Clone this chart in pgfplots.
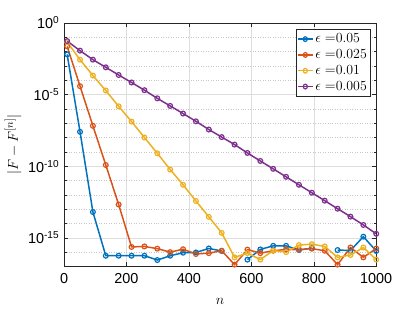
\documentclass[border=0pt]{standalone}
\usepackage{pgfplots}
\pgfplotsset{compat=1.18}
\usepackage{pgfplotstable}
\usepackage{fontspec}
\setmainfont{Liberation Sans}
\newfontfamily\lmr{Latin Modern Roman}
\definecolor{mblue}{rgb}{0,0.447,0.741}
\definecolor{morange}{rgb}{0.85,0.325,0.098}
\definecolor{myellow}{rgb}{0.929,0.694,0.125}
\definecolor{mpurple}{rgb}{0.494,0.184,0.556}
\definecolor{axgray}{rgb}{0.15,0.15,0.15}

\pgfplotstableread{
n       blue      orange    yellow    purple
10      6.3e-3    2.3e-2    4.5e-2    5.4e-2
51.25   2.5e-8    3.8e-5    2.7e-3    1.15e-2
92.5    6.3e-14   6.5e-8    2.1e-4    2.7e-3
133.75  5.6e-17   1.2e-10   1.9e-5    7.9e-4
175     5.6e-17   2.1e-13   1.5e-6    2.3e-4
216.25  5.6e-17   2.3e-16   1.3e-7    6.9e-5
257.5   5.6e-17   2.5e-16   1.0e-8    2.0e-5
298.75  2.8e-17   1.75e-16  7.9e-10   5.4e-6
340     5.6e-17   1.0e-16   5.8e-11   1.6e-6
381.25  9.1e-17   1.6e-16   5.0e-12   4.7e-7
422.5   9.5e-17   7.4e-17   3.7e-13   1.35e-7
463.75  1.8e-16   8.5e-17   2.9e-14   3.6e-8
505     1.2e-16   1.25e-16  2.2e-15   1.07e-8
546.25  nan       1.35e-17  4.3e-17   3.2e-9
587.5   3.0e-17   1.5e-16   8.5e-17   8.3e-10
628.75  1.55e-16  8.5e-17   3.0e-17   2.3e-10
670     2.75e-16  1.25e-16  1.3e-16   6.5e-11
711.25  2.75e-16  1.55e-16  1.0e-16   1.8e-11
752.5   1.4e-16   1.5e-16   3.1e-16   5.0e-12
793.75  1.9e-16   1.75e-16  3.6e-16   1.4e-12
835     nan       1.25e-16  2.5e-16   3.9e-13
876.25  1.4e-16   1.35e-17  4.3e-17   1.07e-13
917.5   1.3e-16   2.1e-16   6.3e-17   3.0e-14
958.75  1.2e-15   4.3e-17   2.1e-16   7.9e-15
1000    1.2e-16   1.8e-16   3.0e-17   1.9e-15
}\datatable

\begin{document}
\begin{tikzpicture}
\fontsize{14}{16}\selectfont
\begin{axis}[
  at={(0,0)}, anchor=south west,
  scale only axis,
  width=314pt, height=245pt,
  ymode=log,
  xmin=0, xmax=1000,
  ymin=1e-17, ymax=1,
  xtick={0,200,400,600,800,1000},
  xticklabels={0,200,400,600,800,1000},
  ytick={1e-15,1e-10,1e-5,1},
  yticklabels={10\textsuperscript{-15},10\textsuperscript{-10},10\textsuperscript{-5},10\textsuperscript{0}},
  minor ytick={1e-17,1e-16,1e-14,1e-13,1e-12,1e-11,1e-9,1e-8,1e-7,1e-6,1e-4,1e-3,1e-2,1e-1},
  xticklabel style={font=\fontsize{14.5}{16}\selectfont, yshift=-2pt},
  yticklabel style={font=\fontsize{14.5}{16}\selectfont},
  xmajorgrids, ymajorgrids, yminorgrids,
  major grid style={line width=0.5pt, color=black!13},
  minor grid style={line width=0.5pt, color=black!22, dotted},
  axis line style={color=axgray, line width=0.5pt},
  tick style={color=axgray, line width=0.5pt},
  major tick length=4pt, minor tick length=2.5pt,
  tick align=inside,
  xtick pos=both, ytick pos=both,
  xlabel={$n$}, ylabel={$|F-F^{[n]}|$},
  label style={font=\fontsize{15}{17}\selectfont},
  xlabel style={yshift=-5pt},
  ylabel style={yshift=-3pt},
  unbounded coords=jump,
  legend style={font=\fontsize{14}{16}\selectfont, draw=axgray, line width=0.5pt, fill=white,
    at={(rel axis cs:0.982,0.976)}, anchor=north east, inner xsep=1.5pt, inner ysep=2.5pt, row sep=0.5pt},
  legend cell align=left,
  legend image post style={xscale=0.85},
  every axis plot/.append style={line width=1.5pt, mark=o, mark size=2.4pt, mark options={line width=1.2pt, solid, fill=none}},
]
\addplot[color=mblue] table[x=n, y=blue] {\datatable};
\addlegendentry{$\epsilon=$\lmr 0.05}
\addplot[color=morange] table[x=n, y=orange] {\datatable};
\addlegendentry{$\epsilon=$\lmr 0.025}
\addplot[color=myellow] table[x=n, y=yellow] {\datatable};
\addlegendentry{$\epsilon=$\lmr 0.01}
\addplot[color=mpurple] table[x=n, y=purple] {\datatable};
\addlegendentry{$\epsilon=$\lmr 0.005}
\end{axis}
\path (-62pt,-44pt) rectangle (353pt,268pt);
\end{tikzpicture}
\end{document}
